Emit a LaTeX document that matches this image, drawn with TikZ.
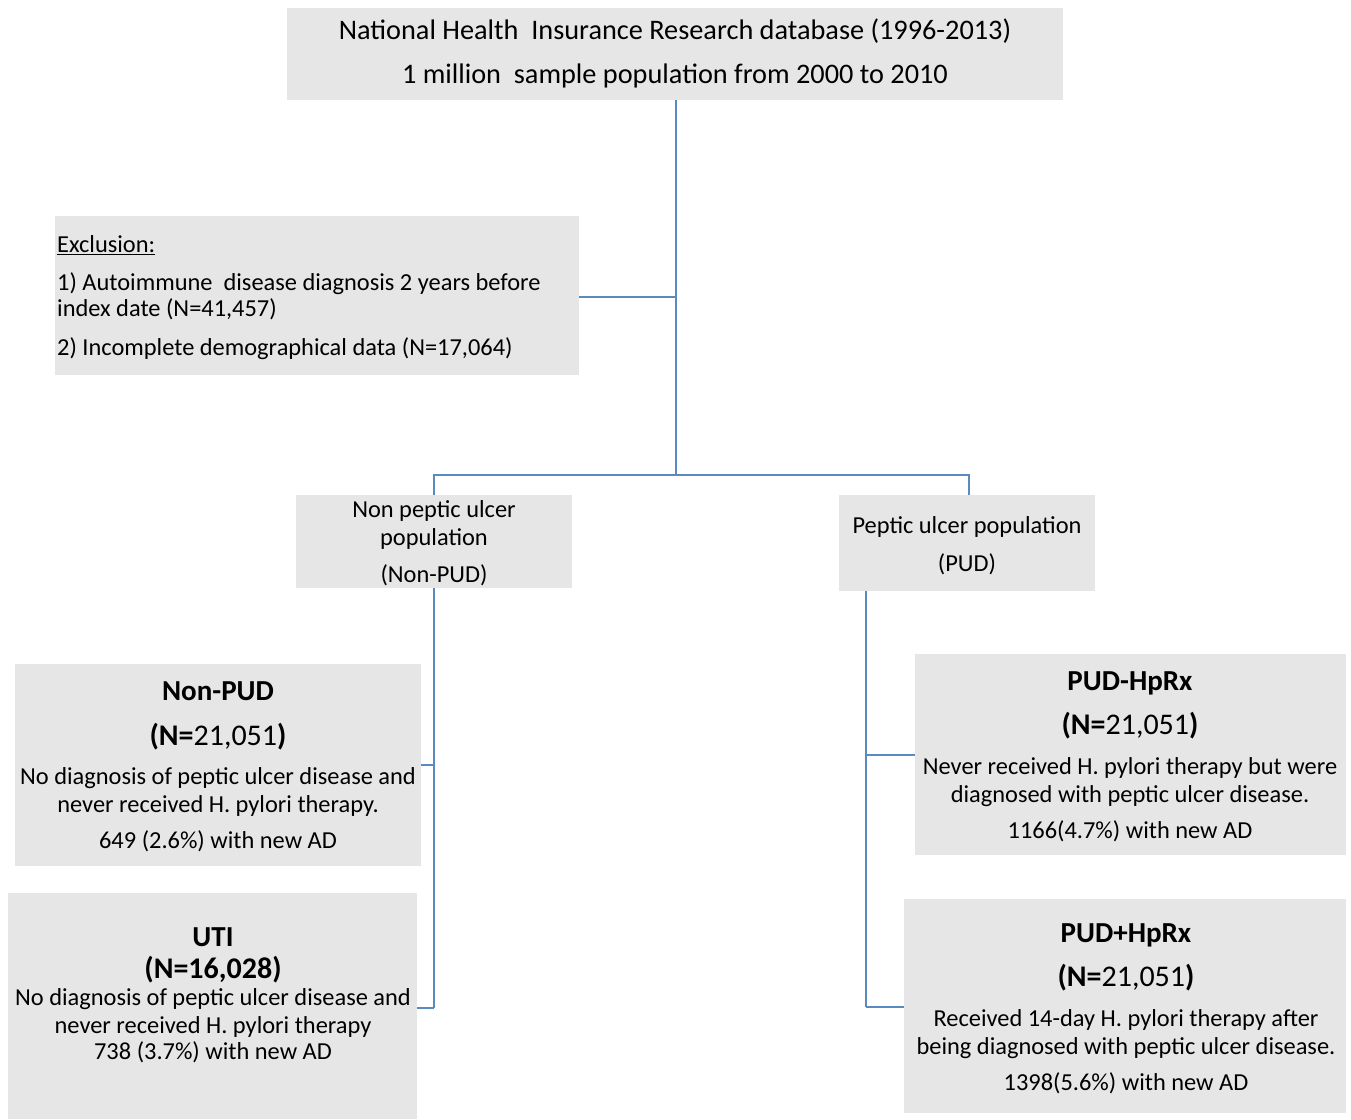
\documentclass[tikz,border=0pt]{standalone}
\usepackage{fontspec}
\setmainfont{Carlito}
\begin{document}
\begin{tikzpicture}[x=1pt,y=-1pt,
  box/.style={fill=boxgray, draw=none, inner sep=0pt},
  ln/.style={draw=linkblue, line width=1.8pt},
  txt/.style={inner sep=0pt, text height=0.7em, text depth=0.2em, yshift=-6pt, font=\fontsize{24.4}{28}\selectfont},
  head/.style={txt, yshift=-2pt, font=\fontsize{29}{32}\selectfont\bfseries},
  num/.style={txt, yshift=-2pt, font=\fontsize{30}{34}\selectfont}
]
\definecolor{boxgray}{HTML}{E7E6E6}
\definecolor{linkblue}{HTML}{5B8AC0}
\useasboundingbox (0,0) rectangle (1351,1119);
% boxes
\path[box] (287,8) rectangle (1063,100);
\path[box] (55,216) rectangle (579,375);
\path[box] (296,495) rectangle (572,588);
\path[box] (839,495) rectangle (1095,591);
\path[box] (15,664) rectangle (421,866);
\path[box] (8,893) rectangle (417,1119);
\path[box] (915,654) rectangle (1346,855);
\path[box] (904,899) rectangle (1346,1113);
% named anchor nodes for boxes
\node[inner sep=0pt, minimum size=0pt] (top) at (676,100) {};
\node[inner sep=0pt] (excl) at (579,297) {};
\node[inner sep=0pt] (npop) at (434,495) {};
\node[inner sep=0pt] (npopB) at (434,588) {};
\node[inner sep=0pt] (ppop) at (969,495) {};
\node[inner sep=0pt] (ppopB) at (866,591) {};
\node[inner sep=0pt] (nonpud) at (421,765) {};
\node[inner sep=0pt] (uti) at (417,1008) {};
\node[inner sep=0pt] (pudm) at (915,755) {};
\node[inner sep=0pt] (pudp) at (904,1007) {};
% connectors
\draw[ln] (top.center) -- (676,475) coordinate (split);
\draw[ln] (excl.center) -- (676,297);
\draw[ln] (npop.center) |- (split) -| (ppop.center);
\draw[ln] (npopB.center) -- (434,1008);
\draw[ln] (nonpud.center) -- (434,765);
\draw[ln] (uti.center) -- (434,1008);
\draw[ln] (ppopB.center) -- (866,1007);
\draw[ln] (pudm.center) -- (866,755);
\draw[ln] (pudp.center) -- (866,1007);
% top text
\node[txt, yshift=-1pt, font=\fontsize{28.3}{32}\selectfont] (t1) at (675,30) {National Health\ \ Insurance Research database (1996-2013)};
\node[txt, yshift=-1pt, font=\fontsize{28.3}{32}\selectfont] (t2) at (675,74) {1 million\ \ sample population from 2000 to 2010};
% exclusion
\node[txt, anchor=west] (e1) at (57,244) {\underline{Exclusion:}};
\node[txt, anchor=west] (e2) at (57,282) {1) Autoimmune\ \ disease diagnosis 2 years before};
\node[txt, anchor=west] (e3) at (57,308) {index date (N=41,457)};
\node[txt, anchor=west] (e4) at (57,347) {2) Incomplete\ demographical data (N=17,064)};
% non PUD population
\node[txt] (n1) at (434,509) {Non peptic ulcer};
\node[txt] (n2) at (434,537) {population};
\node[txt] (n3) at (434,574) {(Non-PUD)};
% PUD population
\node[txt] (p1) at (967,525) {Peptic ulcer population};
\node[txt] (p2) at (967,563) {(PUD)};
% Non-PUD box
\node[head] (a1) at (218,690) {Non-PUD};
\node[num] (a2) at (218,735) {\textbf{(N=}21,051\textbf{)}};
\node[txt] (a3) at (218,776) {No diagnosis of peptic ulcer disease and};
\node[txt] (a4) at (218,804) {never received H. pylori therapy.};
\node[txt] (a5) at (218,840) {649 (2.6\%) with new AD};
% UTI box
\node[head] (b1) at (213,936) {UTI};
\node[num, font=\fontsize{30}{34}\selectfont\bfseries] (b2) at (213,968) {(N=16,028)};
\node[txt] (b3) at (213,997) {No diagnosis of peptic ulcer disease and};
\node[txt] (b4) at (213,1025) {never received H. pylori therapy};
\node[txt] (b5) at (213,1051) {738 (3.7\%) with new AD};
% PUD-HpRx
\node[head] (c1) at (1130,680) {PUD-HpRx};
\node[num] (c2) at (1130,724) {\textbf{(N=}21,051\textbf{)}};
\node[txt] (c3) at (1130,766) {Never received H. pylori therapy but were};
\node[txt] (c4) at (1130,794) {diagnosed with peptic ulcer disease.};
\node[txt] (c5) at (1130,830) {1166(4.7\%) with new AD};
% PUD+HpRx
\node[head] (d1) at (1126,932) {PUD+HpRx};
\node[num] (d2) at (1126,976) {\textbf{(N=}21,051\textbf{)}};
\node[txt] (d3) at (1126,1018) {Received 14-day H. pylori therapy after};
\node[txt] (d4) at (1126,1046) {being diagnosed with peptic ulcer disease.};
\node[txt] (d5) at (1126,1082) {1398(5.6\%) with new AD};
\end{tikzpicture}
\end{document}
